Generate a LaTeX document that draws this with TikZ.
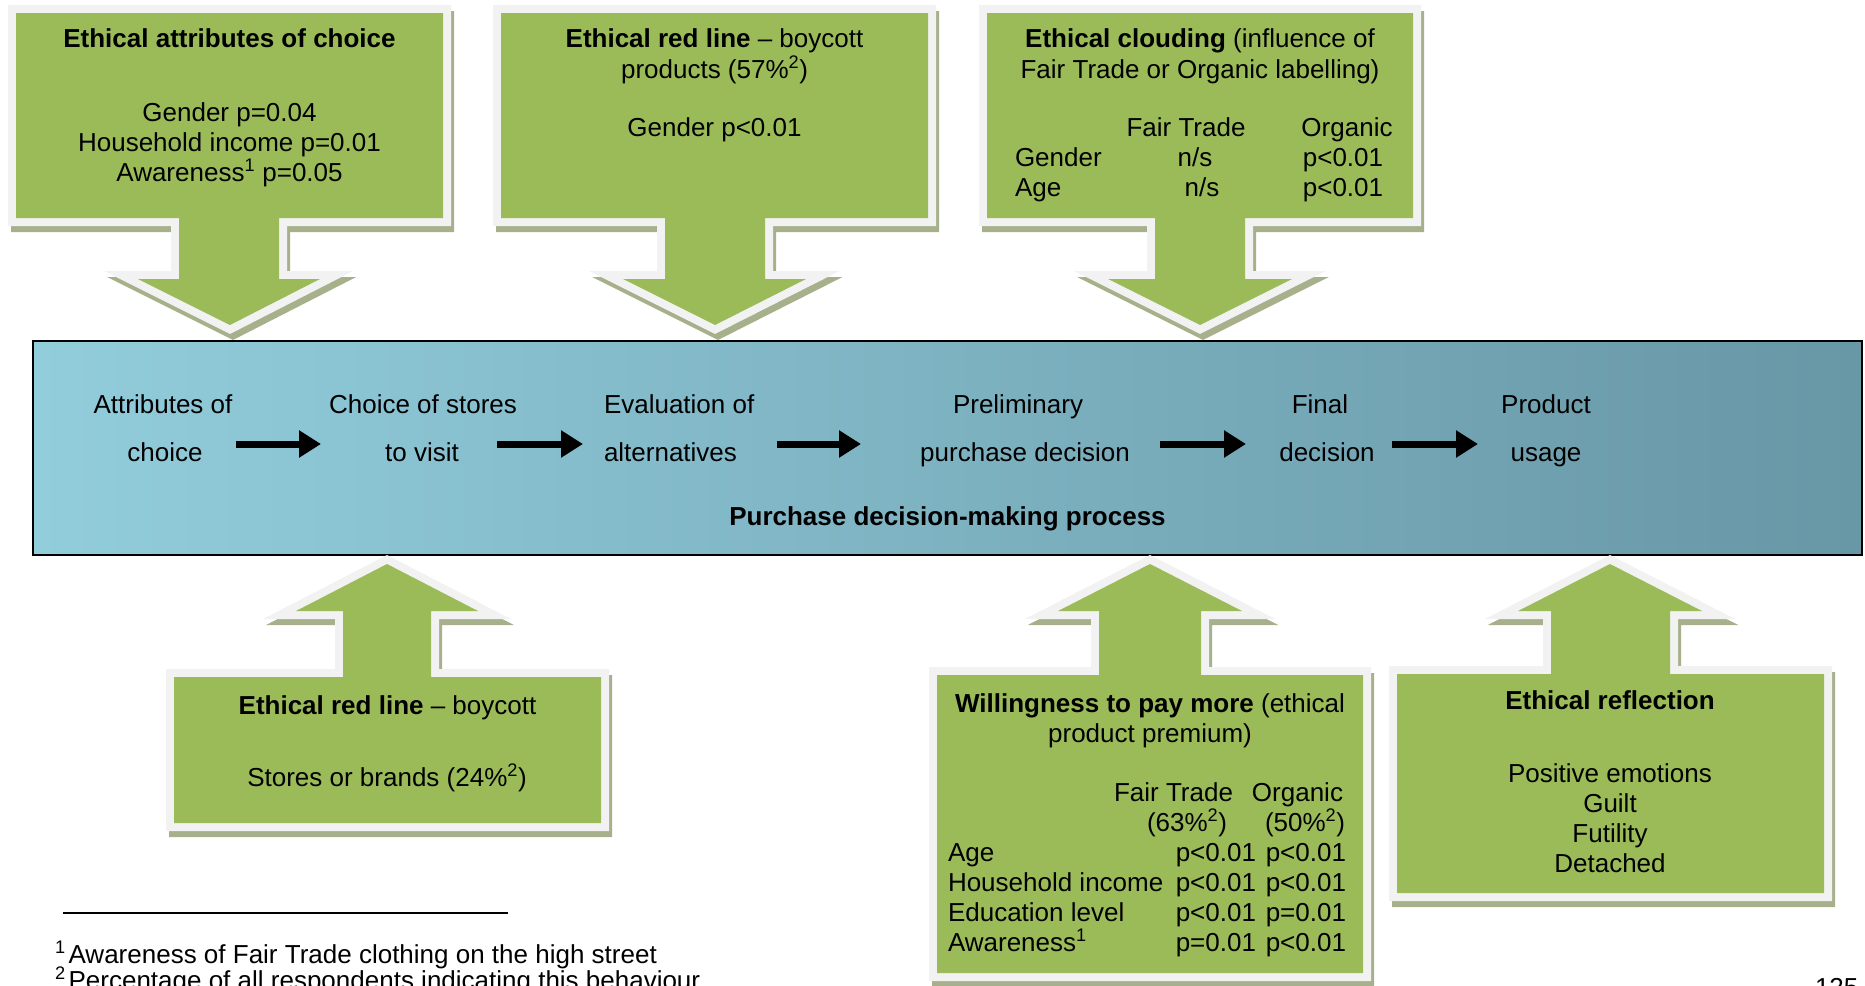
\documentclass[tikz,border=0pt]{standalone}
\usepackage{fontspec}
\setmainfont{Liberation Sans}
\usetikzlibrary{arrows.meta}

\definecolor{leaf}{RGB}{155,187,89}
\definecolor{rim}{RGB}{242,242,242}
\definecolor{hatch}{RGB}{166,176,138}
\definecolor{skyL}{RGB}{146,205,220}
\definecolor{skyR}{RGB}{104,151,166}

\newcommand\supnum[1]{\textsuperscript{#1}}

\tikzset{
  calloutshadow/.style={fill=hatch, draw=hatch, line width=16pt, line join=miter, shift={(3,6)}},
  calloutrim/.style={fill=rim, draw=rim, line width=16pt, line join=miter},
  calloutbody/.style={fill=leaf},
  txt/.style={inner sep=0pt, outer sep=0pt, font=\fontsize{26}{30}\selectfont},
  processbox/.style={draw=black, line width=1.5pt, left color=skyL, right color=skyR, inner sep=0pt},
  stepflow/.style={line width=7pt, -{Triangle[length=22pt, width=26pt]}},
  footrule/.style={line width=1.3pt},
}

\begin{document}
\begin{tikzpicture}[x=1pt, y=-1pt]
\useasboundingbox (0,0) rectangle (1865,985);

% ---- purchase decision-making process band ----
\node[processbox, minimum width=1829pt, minimum height=214pt] (proc) at (947.5,448) {};

\node[txt, anchor=base] (s1a) at (163,413) {Attributes of};
\node[txt, anchor=base] (s1b) at (165,461) {choice};
\node[txt, anchor=base] (s2a) at (423,413) {Choice of stores};
\node[txt, anchor=base] (s2b) at (422,461) {to visit};
\node[txt, anchor=base west] (s3a) at (604,413) {Evaluation of};
\node[txt, anchor=base west] (s3b) at (604,461) {alternatives};
\node[txt, anchor=base] (s4a) at (1018,413) {Preliminary};
\node[txt, anchor=base] (s4b) at (1025,461) {purchase decision};
\node[txt, anchor=base] (s5a) at (1320,413) {Final};
\node[txt, anchor=base] (s5b) at (1327,461) {decision};
\node[txt, anchor=base] (s6a) at (1546,413) {Product};
\node[txt, anchor=base] (s6b) at (1546,461) {usage};
\node[txt, anchor=base] (ptitle) at (947.5,525) {\textbf{Purchase decision-making process}};

\coordinate (f1a) at (236,444);  \coordinate (f1b) at (321,444);
\coordinate (f2a) at (497,444);  \coordinate (f2b) at (583,444);
\coordinate (f3a) at (777,444);  \coordinate (f3b) at (861,444);
\coordinate (f4a) at (1160,444); \coordinate (f4b) at (1246,444);
\coordinate (f5a) at (1392,444); \coordinate (f5b) at (1478,444);
\draw[stepflow] (f1a) -- (f1b);
\draw[stepflow] (f2a) -- (f2b);
\draw[stepflow] (f3a) -- (f3b);
\draw[stepflow] (f4a) -- (f4b);
\draw[stepflow] (f5a) -- (f5b);

% ---- callouts pointing down onto the process ----
\foreach \layer in {calloutshadow,calloutrim,calloutbody}{
  \path[\layer] (16,13) -- (443,13) -- (443,218) -- (279,218) -- (279,279) -- (320,279)
    -- (230,325) -- (138,279) -- (179,279) -- (179,218) -- (16,218) -- cycle;
  \path[\layer] (501,13) -- (928,13) -- (928,218) -- (765,218) -- (765,279) -- (806,279)
    -- (715,325) -- (623,279) -- (665,279) -- (665,218) -- (501,218) -- cycle;
  \path[\layer] (987,13) -- (1413,13) -- (1413,218) -- (1245,218) -- (1245,279) -- (1292,279)
    -- (1200,325) -- (1108,279) -- (1155,279) -- (1155,218) -- (987,218) -- cycle;
  % ---- callouts pointing up onto the process ----
  \path[\layer] (174,823) -- (601,823) -- (601,677) -- (431,677) -- (431,611) -- (478,611)
    -- (387,564) -- (296,611) -- (343,611) -- (343,677) -- (174,677) -- cycle;
  \path[\layer] (937,973) -- (1363,973) -- (1363,675) -- (1201,675) -- (1201,611) -- (1242,611)
    -- (1150,564) -- (1058,611) -- (1099,611) -- (1099,675) -- (937,675) -- cycle;
  \path[\layer] (1397,893) -- (1824,893) -- (1824,674) -- (1670,674) -- (1670,611) -- (1702,611)
    -- (1610,564) -- (1518,611) -- (1551,611) -- (1551,674) -- (1397,674) -- cycle;
}

% attributes of choice
\node[txt, anchor=base] (a0) at (229.5,47) {\textbf{Ethical attributes of choice}};
\node[txt, anchor=base] (a1) at (229.5,121) {Gender p=0.04};
\node[txt, anchor=base] (a2) at (229.5,151) {Household income p=0.01};
\node[txt, anchor=base] (a3) at (229.5,181) {Awareness\supnum{1} p=0.05};

% boycott products
\node[txt, anchor=base] (b0) at (714.5,47) {\textbf{Ethical red line} – boycott};
\node[txt, anchor=base] (b1) at (714.5,78) {products (57\%\supnum{2})};
\node[txt, anchor=base] (b2) at (714.5,136) {Gender p<0.01};

% clouding
\node[txt, anchor=base] (c0) at (1200,47) {\textbf{Ethical clouding} (influence of};
\node[txt, anchor=base] (c1) at (1200,78) {Fair Trade or Organic labelling)};
\node[txt, anchor=base] (ch1) at (1186,136) {Fair Trade};
\node[txt, anchor=base] (ch2) at (1347,136) {Organic};
\node[txt, anchor=base west] (cr1) at (1015,166) {Gender};
\node[txt, anchor=base] (cr1a) at (1195,166) {n/s};
\node[txt, anchor=base] (cr1b) at (1343,166) {p<0.01};
\node[txt, anchor=base west] (cr2) at (1015,196) {Age};
\node[txt, anchor=base] (cr2a) at (1202,196) {n/s};
\node[txt, anchor=base] (cr2b) at (1343,196) {p<0.01};

% boycott stores
\node[txt, anchor=base] (d0) at (387.5,714) {\textbf{Ethical red line} – boycott};
\node[txt, anchor=base] (d1) at (387,786) {Stores or brands (24\%\supnum{2})};

% willingness to pay more
\node[txt, anchor=base] (w0) at (1150,712) {\textbf{Willingness to pay more} (ethical};
\node[txt, anchor=base] (w1) at (1150,742) {product premium)};
\node[txt, anchor=base east] (wh1) at (1233,801) {Fair Trade};
\node[txt, anchor=base east] (wh2) at (1343,801) {Organic};
\node[txt, anchor=base east] (wp1) at (1227,831) {(63\%\supnum{2})};
\node[txt, anchor=base east] (wp2) at (1345,831) {(50\%\supnum{2})};
\node[txt, anchor=base west] (wr1) at (948,861) {Age};
\node[txt, anchor=base east] (wr1a) at (1256,861) {p<0.01};
\node[txt, anchor=base east] (wr1b) at (1346,861) {p<0.01};
\node[txt, anchor=base west] (wr2) at (948,891) {Household income};
\node[txt, anchor=base east] (wr2a) at (1256,891) {p<0.01};
\node[txt, anchor=base east] (wr2b) at (1346,891) {p<0.01};
\node[txt, anchor=base west] (wr3) at (948,921) {Education level};
\node[txt, anchor=base east] (wr3a) at (1256,921) {p<0.01};
\node[txt, anchor=base east] (wr3b) at (1346,921) {p=0.01};
\node[txt, anchor=base west] (wr4) at (948,951) {Awareness\supnum{1}};
\node[txt, anchor=base east] (wr4a) at (1256,951) {p=0.01};
\node[txt, anchor=base east] (wr4b) at (1346,951) {p<0.01};

% reflection
\node[txt, anchor=base] (r0) at (1610,709) {\textbf{Ethical reflection}};
\node[txt, anchor=base] (r1) at (1610,782) {Positive emotions};
\node[txt, anchor=base] (r2) at (1610,812) {Guilt};
\node[txt, anchor=base] (r3) at (1610,842) {Futility};
\node[txt, anchor=base] (r4) at (1610,872) {Detached};

% ---- footnotes and page number ----
\coordinate (fr1) at (63,913);
\coordinate (fr2) at (508,913);
\draw[footrule] (fr1) -- (fr2);
\node[txt, anchor=base west] (fn1) at (55,963) {\supnum{1}\hspace{3pt}Awareness of Fair Trade clothing on the high street};
\node[txt, anchor=base west] (fn2) at (55,989) {\supnum{2}\hspace{3pt}Percentage of all respondents indicating this behaviour};
\node[txt, anchor=base west] (pg) at (1815,996) {125};
\end{tikzpicture}
\end{document}
